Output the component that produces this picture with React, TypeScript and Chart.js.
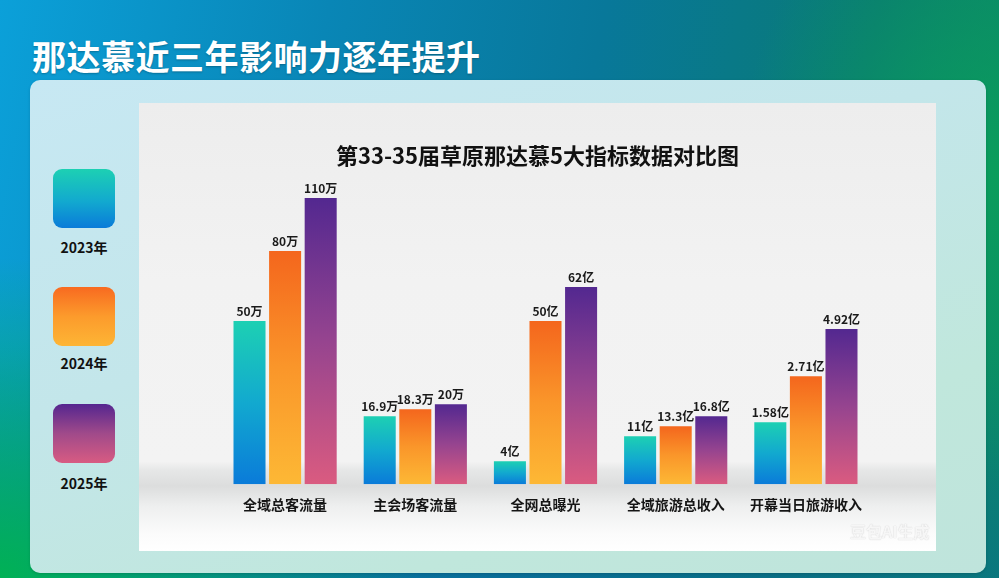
import React, { useEffect, useRef } from "react";
import { Chart, registerables } from "chart.js";

Chart.register(...registerables);

const pageTitle = "那达慕近三年影响力逐年提升";
const chartTitle = "第33-35届草原那达慕5大指标数据对比图";
const categories = ["全域总客流量", "主会场客流量", "全网总曝光", "全域旅游总收入", "开幕当日旅游收入"];
const years = ["2023年", "2024年", "2025年"];
const labels2023 = ["50万", "16.9万", "4亿", "11亿", "1.58亿"];
const labels2024 = ["80万", "18.3万", "50亿", "13.3亿", "2.71亿"];
const labels2025 = ["110万", "20万", "62亿", "16.8亿", "4.92亿"];
// Bar heights as drawn in the source picture (it draws each indicator on its own visual scale)
const heights2023 = [163, 68, 23, 48, 62];
const heights2024 = [233, 75, 163, 58, 108];
const heights2025 = [286, 80, 197, 68, 155];
const yMax = 296;

const gradTop = ["#1dd0b3", "#f4661d", "#532890"];
const gradMid = ["#12a9cf", "#fa962a", "#96448f"];
const gradBottom = ["#0a7bd9", "#fdb835", "#da5b80"];

const FONT = "'Noto Sans CJK SC', 'Noto Sans', sans-serif";

const valueLabelPlugin = {
  id: "valueLabels",
  afterDatasetsDraw(chart: any) {
    const ctx = chart.ctx;
    const all = [labels2023, labels2024, labels2025];
    ctx.save();
    ctx.font = `bold 12px ${FONT}`;
    ctx.fillStyle = "#1a1a1a";
    ctx.textAlign = "center";
    ctx.textBaseline = "bottom";
    chart.data.datasets.forEach((_: any, di: number) => {
      const meta = chart.getDatasetMeta(di);
      meta.data.forEach((el: any, i: number) => {
        ctx.fillText(all[di][i], el.x, el.y - 4);
      });
    });
    ctx.restore();
  },
};

const centeredTitlePlugin = {
  id: "centeredTitle",
  afterDraw(chart: any) {
    const ctx = chart.ctx;
    ctx.save();
    ctx.font = `bold 22px ${FONT}`;
    ctx.fillStyle = "#111111";
    ctx.textAlign = "center";
    ctx.textBaseline = "middle";
    ctx.fillText(chartTitle, chart.width / 2, 53);
    ctx.restore();
  },
};

function makeGradient(di: number) {
  return (c: any) => {
    const chart = c.chart;
    const { chartArea, scales } = chart;
    if (!chartArea || c.type !== "data") return gradTop[di];
    const v = c.raw as number;
    const yTop = scales.y.getPixelForValue(v);
    const yBot = scales.y.getPixelForValue(0);
    const g = chart.ctx.createLinearGradient(0, yTop, 0, yBot);
    g.addColorStop(0, gradTop[di]);
    g.addColorStop(0.5, gradMid[di]);
    g.addColorStop(1, gradBottom[di]);
    return g;
  };
}

function BarChart() {
  const ref = useRef<HTMLCanvasElement>(null);
  useEffect(() => {
    if (!ref.current) return;
    const heights = [heights2023, heights2024, heights2025];
    const chart = new Chart(ref.current, {
      type: "bar",
      data: {
        labels: categories,
        datasets: years.map((y, di) => ({
          label: y,
          data: heights[di],
          backgroundColor: makeGradient(di),
          borderWidth: 0,
          barPercentage: 0.9,
          categoryPercentage: 0.82,
        })),
      },
      options: {
        responsive: false,
        animation: false,
        devicePixelRatio: 1,
        layout: { padding: { left: 81, right: 65, top: 85, bottom: 34 } },
        plugins: {
          legend: { display: false },
          tooltip: { enabled: false },
          title: { display: false },
        },
        scales: {
          x: {
            grid: { display: false },
            border: { display: false },
            ticks: {
              color: "#151515",
              padding: 4,
              font: { size: 14, weight: "bold", family: FONT },
            },
          },
          y: {
            display: false,
            min: 0,
            max: yMax,
          },
        },
      },
      plugins: [valueLabelPlugin, centeredTitlePlugin],
    } as any);
    return () => chart.destroy();
  }, []);
  return <canvas ref={ref} width={797} height={448} style={{ display: "block" }} />;
}

const legendGrads = [
  "linear-gradient(180deg, #1dd0b3 0%, #12a9cf 55%, #0a7bd9 100%)",
  "linear-gradient(180deg, #f86a20 0%, #fc9b2c 50%, #fdb535 100%)",
  "linear-gradient(180deg, #55268f 0%, #a04a8a 50%, #d85b82 100%)",
];
const legendTops = [169, 287, 404];
const legendLabelY = [247, 363, 483];

export default function App() {
  return (
    <div
      style={{
        position: "fixed",
        left: 0,
        top: 0,
        width: 999,
        height: 578,
        overflow: "hidden",
        fontFamily: FONT,
        background:
          "radial-gradient(ellipse 420px 320px at 0% 100%, rgba(0,180,80,0.95), rgba(0,180,80,0) 100%)," +
          "radial-gradient(ellipse 260px 320px at 100% 30%, rgba(10,160,90,0.9), rgba(10,160,90,0) 100%)," +
          "linear-gradient(180deg, rgba(0,0,0,0) 60%, rgba(10,100,150,0.5) 100%)," +
          "linear-gradient(100deg, #0ba0d9 0%, #0986b6 30%, #08789a 55%, #0a7a74 80%, #0b8a66 100%)",
      }}
    >
      <div
        style={{
          position: "absolute",
          left: 32,
          top: 37,
          color: "#ffffff",
          fontSize: 34,
          fontWeight: "bold",
          lineHeight: "38px",
          letterSpacing: 0.5,
          whiteSpace: "nowrap",
          textShadow: "0 1px 2px rgba(0,0,0,0.25)",
        }}
      >
        {pageTitle}
      </div>
      <div
        style={{
          position: "absolute",
          left: 30,
          top: 80,
          width: 956,
          height: 493,
          borderRadius: 10,
          background: "linear-gradient(160deg, #c7e8f3 0%, #c3e6ea 40%, #c0e7dc 75%, #bfe4dc 100%)",
          boxShadow: "0 1px 3px rgba(0,0,0,0.15)",
        }}
      />
      {years.map((y, i) => (
        <React.Fragment key={y}>
          <div
            style={{
              position: "absolute",
              left: 53,
              top: legendTops[i],
              width: 62,
              height: 59,
              borderRadius: 9,
              background: legendGrads[i],
            }}
          />
          <div
            style={{
              position: "absolute",
              left: 44,
              top: legendLabelY[i] - 10,
              width: 80,
              textAlign: "center",
              fontSize: 14,
              fontWeight: "bold",
              lineHeight: "20px",
              color: "#111",
            }}
          >
            {y}
          </div>
        </React.Fragment>
      ))}
      <div
        style={{
          position: "absolute",
          left: 139,
          top: 103,
          width: 797,
          height: 448,
          background:
            "linear-gradient(180deg, #ededed 0%, #f2f2f2 40%, #f3f3f3 80%, #e6e7e7 82%, #dcdddd 85.5%, #eeefef 90%, #fbfbfb 96%, #ffffff 100%)",
        }}
      >
        <BarChart />
        <div
          style={{
            position: "absolute",
            left: 711,
            top: 418,
            fontSize: 16,
            lineHeight: "20px",
            fontWeight: "bold",
            color: "rgba(255,255,255,0.85)",
            textShadow: "0 0 1px rgba(150,150,150,0.6)",
            whiteSpace: "nowrap",
          }}
        >
          豆包AI生成
        </div>
      </div>
    </div>
  );
}
